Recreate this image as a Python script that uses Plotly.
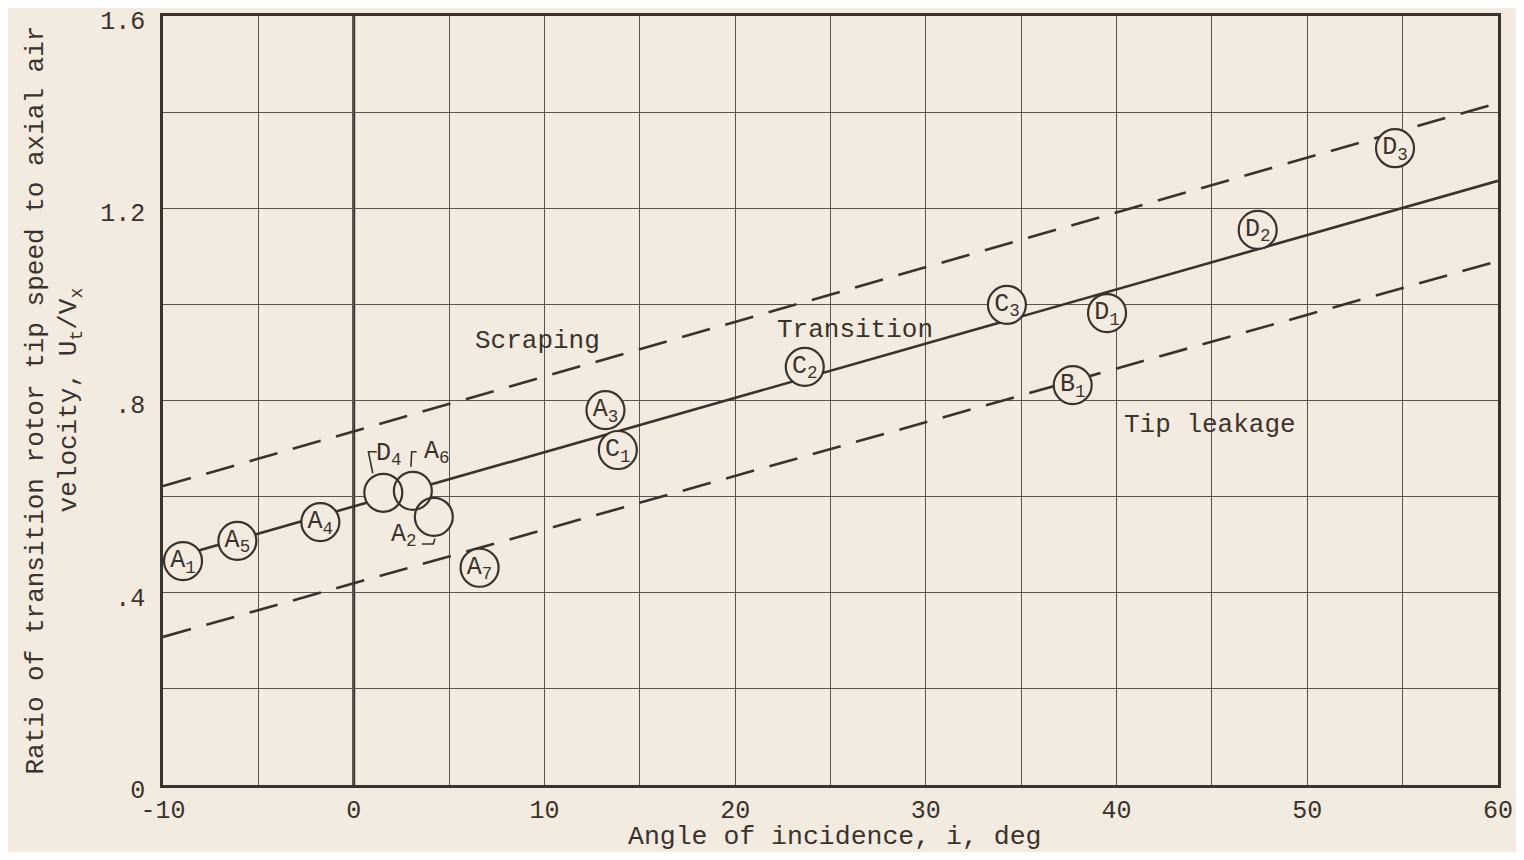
import plotly.graph_objects as go

# ---- data ----
point_names = ["A1", "A5", "A4", "D4", "A6", "A2", "A7", "A3", "C1", "C2",
               "C3", "D1", "B1", "D2", "D3"]
point_x = [-8.95, -6.1, -1.75, 1.55, 3.1, 4.2, 6.6, 13.2, 13.85, 23.65,
           34.25, 39.5, 37.7, 47.4, 54.6]
point_y = [0.466, 0.508, 0.547, 0.608, 0.612, 0.558, 0.452, 0.780, 0.697, 0.870,
           0.999, 0.982, 0.832, 1.155, 1.325]
# labels drawn outside the circle (cluster near zero incidence)
outside_names = ["D4", "A6", "A2"]

transition_x = [-9.0, 60.0]
transition_y = [0.478, 1.257]
scraping_x = [-10.0, 60.0]
scraping_y = [0.622, 1.419]
leakage_x = [-10.0, 60.0]
leakage_y = [0.308, 1.090]

region_labels = ["Scraping", "Transition", "Tip leakage"]
region_x = [9.65, 26.3, 44.9]
region_y = [0.924, 0.946, 0.750]

x_tick_vals = list(range(-10, 61, 5))
x_tick_text = [str(v) if v % 10 == 0 else "" for v in x_tick_vals]
y_tick_vals = [0, 0.2, 0.4, 0.6, 0.8, 1.0, 1.2, 1.4, 1.6]
y_tick_text = ["0", "", ".4", "", ".8", "", "1.2", "", "1.6"]

x_title = "Angle of incidence, i, deg"
y_title = "Ratio of transition rotor tip speed to axial air<br>velocity, U<sub>t</sub>/V<sub>x</sub>"

# ---- style ----
BG = "#f3ebdf"
INK = "#3a332d"
GRID = "#5a544d"
FONT = "Liberation Mono"


def sub_label(name):
    return f"{name[0]}<sub>{name[1:]}</sub>"


inner_text = ["" if n in outside_names else sub_label(n) for n in point_names]

fig = go.Figure()

fig.add_trace(go.Scatter(x=scraping_x, y=scraping_y, mode="lines",
                         line=dict(color=INK, width=2.6, dash="29px,16px"),
                         hoverinfo="skip", showlegend=False))
fig.add_trace(go.Scatter(x=leakage_x, y=leakage_y, mode="lines",
                         line=dict(color=INK, width=2.6, dash="29px,16px"),
                         hoverinfo="skip", showlegend=False))
fig.add_trace(go.Scatter(x=transition_x, y=transition_y, mode="lines",
                         line=dict(color=INK, width=2.6),
                         hoverinfo="skip", showlegend=False))

# background-filled discs (hide lines inside circles)
fig.add_trace(go.Scatter(x=point_x, y=point_y, mode="markers",
                         marker=dict(size=38, color=BG, line=dict(width=0)),
                         hoverinfo="skip", showlegend=False))
# outlines + labels
fig.add_trace(go.Scatter(x=point_x, y=point_y, mode="markers+text",
                         text=inner_text, textposition="middle center",
                         textfont=dict(family=FONT, size=25, color=INK),
                         marker=dict(size=38, color="rgba(0,0,0,0)",
                                     line=dict(width=2.2, color=INK)),
                         showlegend=False))

annotations = []
for t, x, y in zip(region_labels, region_x, region_y):
    annotations.append(dict(x=x, y=y, text=t, showarrow=False, xref="x", yref="y",
                            font=dict(family=FONT, size=26, color=INK)))

# outside labels for cluster points
outside_pos = {"D4": (1.85, 0.688), "A6": (4.35, 0.692), "A2": (2.65, 0.52)}
for n in outside_names:
    x, y = outside_pos[n]
    annotations.append(dict(x=x, y=y, text=sub_label(n), showarrow=False,
                            xref="x", yref="y",
                            font=dict(family=FONT, size=25, color=INK)))

# axis titles
annotations.append(dict(x=0.5, y=0, xref="paper", yref="paper", yshift=-52,
                        xshift=4, xanchor="center", yanchor="middle",
                        text=x_title, showarrow=False,
                        font=dict(family=FONT, size=26.5, color=INK)))
annotations.append(dict(x=0, y=0.5, xref="paper", yref="paper", xshift=-110,
                        xanchor="center", yanchor="middle", textangle=-90,
                        text=y_title, showarrow=False,
                        font=dict(family=FONT, size=26, color=INK)))

shapes = [
    dict(type="path", xref="x", yref="y",
         path="M 1.21 0.6935 L 0.77 0.6935 L 1.0 0.6486",
         line=dict(color=INK, width=1.6)),
    dict(type="path", xref="x", yref="y",
         path="M 3.30 0.6935 L 3.04 0.6935 L 3.0 0.662",
         line=dict(color=INK, width=1.6)),
    dict(type="path", xref="x", yref="y",
         path="M 3.57 0.5015 L 4.17 0.5015 L 4.26 0.513",
         line=dict(color=INK, width=1.6)),
    # heavy zero-incidence line
    dict(type="line", xref="x", yref="y", x0=0, x1=0, y0=0, y1=1.6,
         line=dict(color=INK, width=3), layer="below"),
]

# the page body has an 8px margin, so the figure is sized to fit inside it
fig.update_layout(
    width=1508, height=844,
    paper_bgcolor=BG, plot_bgcolor=BG,
    margin=dict(l=155, r=18, t=8, b=67, autoexpand=False),
    font=dict(family=FONT, size=26, color=INK),
    annotations=annotations, shapes=shapes,
    xaxis=dict(range=[-10, 60], tickvals=x_tick_vals, ticktext=x_tick_text,
               showgrid=True, gridcolor=GRID, gridwidth=1.3,
               showline=True, linecolor=INK, linewidth=2.5, mirror=True,
               zeroline=False, ticks="", ticklabelstandoff=0, automargin=False,
               ticklabeloverflow="allow",
               tickfont=dict(family=FONT, size=25, color=INK)),
    yaxis=dict(range=[0, 1.6], tickvals=y_tick_vals, ticktext=y_tick_text,
               showgrid=True, gridcolor=GRID, gridwidth=1.3,
               showline=True, linecolor=INK, linewidth=2.5, mirror=True,
               zeroline=False, ticks="", ticklabelstandoff=10, automargin=False,
               ticklabeloverflow="allow", ticklabelshift=4,
               tickfont=dict(family=FONT, size=25, color=INK)),
)

fig.write_html("out.html")
